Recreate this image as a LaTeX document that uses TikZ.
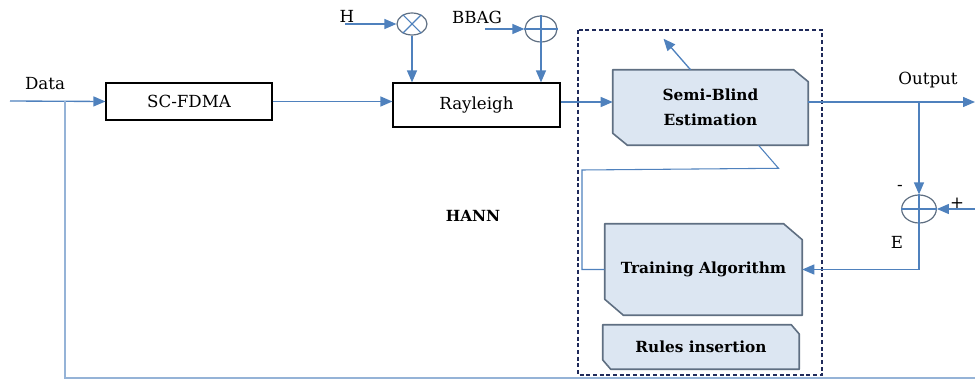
\documentclass[tikz,border=0pt]{standalone}
\usepackage{fontspec}
\setmainfont{DejaVu Serif}
\usetikzlibrary{arrows.meta, shapes.geometric}
\definecolor{lineblue}{HTML}{4F81BD}
\definecolor{paleblue}{HTML}{95B3D7}
\definecolor{fillblue}{HTML}{DCE6F2}
\definecolor{edgegray}{HTML}{5F6F82}
\definecolor{hannnavy}{HTML}{1F2A5A}
\pgfdeclarelayer{background}
\pgfsetlayers{background,main}
\tikzset{
    link/.style={lineblue, line width=1pt},
    tip/.style={link, -{Triangle[length=9pt,width=7.5pt]}},
    plainbox/.style={draw=black, line width=0.9pt},
    nnbox/.style={rectangle, font=\fontsize{11.5}{13}\selectfont\bfseries},
    chamferline/.style={draw=edgegray, line width=1.2pt, fill=fillblue, line join=round},
    junction/.style={ellipse, draw=edgegray, line width=0.9pt, inner sep=0pt},
}
% outline of a box with cut corners (node, cut in x, cut in y)
\newcommand{\cutbox}[3]{%
    \path[chamferline] ([xshift=-#2]#1.north east) -- ([yshift=-#3]#1.north east) -- (#1.south east)
        -- ([xshift=#2]#1.south west) -- ([yshift=#3]#1.south west) -- (#1.north west) -- cycle;}

\begin{document}
\begin{tikzpicture}[x=0.75pt, y=-0.75pt, font=\fontsize{12.5}{15}\selectfont]
    \useasboundingbox (0,0) rectangle (975,381);
    % blocks
    \node[plainbox, minimum width=124.5pt, minimum height=27.75pt] (sc) at (189,101.5) {SC-FDMA};
    \node[plainbox, minimum width=125.25pt, minimum height=33pt] (ray) at (476.5,105) {Rayleigh};
    \node[junction, minimum width=22.5pt, minimum height=16.5pt] (mul) at (412,24) {};
    \node[junction, minimum width=24pt, minimum height=19.5pt] (add) at (541,29) {};
    \node[junction, minimum width=26pt, minimum height=21pt] (sum) at (919,209) {};
    % HANN part
    \draw[hannnavy, densely dashed, line width=0.9pt] (578,30) rectangle (822,375);
    \node[nnbox, minimum width=146.25pt, minimum height=56.25pt, align=center] (semi) at (710.5,107.5)
        {Semi-Blind\\[6pt]Estimation};
    \node[nnbox, minimum width=147.75pt, minimum height=68.25pt] (train) at (703.5,269.5) {Training Algorithm};
    \node[nnbox, minimum width=147pt, minimum height=33pt] (rules) at (701,347) {Rules insertion};
    \node[font=\fontsize{11.5}{13}\selectfont\bfseries] (hann) at (473,216) {HANN};
    \begin{pgfonlayer}{background}
        \cutbox{semi}{11pt}{9pt}
        \cutbox{train}{14pt}{12pt}
        \cutbox{rules}{6pt}{7pt}
    \end{pgfonlayer}
    % crosses inside the junctions
    \draw[link, line width=0.8pt] (mul.45) -- (mul.225) (mul.135) -- (mul.315);
    \draw[link, line width=0.8pt] (add.north) -- (add.south) (add.west) -- (add.east);
    \draw[link, line width=0.8pt] (sum.north) -- (sum.south) (sum.west) -- (sum.east);
    % labels
    \node (data) at (45,84) {Data};
    \node (hlab) at (347,16) {H};
    \node (bbag) at (477,17) {BBAG};
    \node (outlab) at (928,80) {Output};
    \node (minus) at (900,188) {-};
    \node (plus) at (957,203) {+};
    \node (elab) at (897,242) {E};
    % free ends
    \coordinate (din) at (10,101);
    \coordinate (fb) at (65,101);
    \coordinate (fbend) at (975,378);
    \coordinate (hin) at (345,24);
    \coordinate (bin) at (485,29);
    \coordinate (out) at (975,102);
    \coordinate (pin) at (975,209);
    \coordinate (loop) at (582,170);
    % connectors
    \draw[tip] (din) -- (sc.west);
    \draw[paleblue, line width=1.4pt] (fb) |- (fbend); % feedback
    \draw[tip] (sc.east) -- (sc.east -| ray.west);
    \draw[tip] (hin) -- (mul.west);
    \draw[tip] (bin) -- (add.west);
    \draw[tip] (mul.south) -- (mul.south |- ray.north);
    \draw[tip] (add.south) -- (add.south |- ray.north);
    \draw[tip] (ray.east |- out) -- (semi.west |- out);
    \draw[tip] ([xshift=-15pt]semi.north) -- ++(-27,-31);
    \draw[link, line width=0.8pt] ([xshift=36pt]semi.south) -- ++(20,23) -- (loop) |- (train.west);
    \draw[tip] (semi.east |- out) -- (out);
    \draw[tip] (out -| sum.north) -- (sum.north);
    \draw[tip] (pin) -- (sum.east);
    \draw[tip] (sum.south) |- (train.east);
\end{tikzpicture}
\end{document}
